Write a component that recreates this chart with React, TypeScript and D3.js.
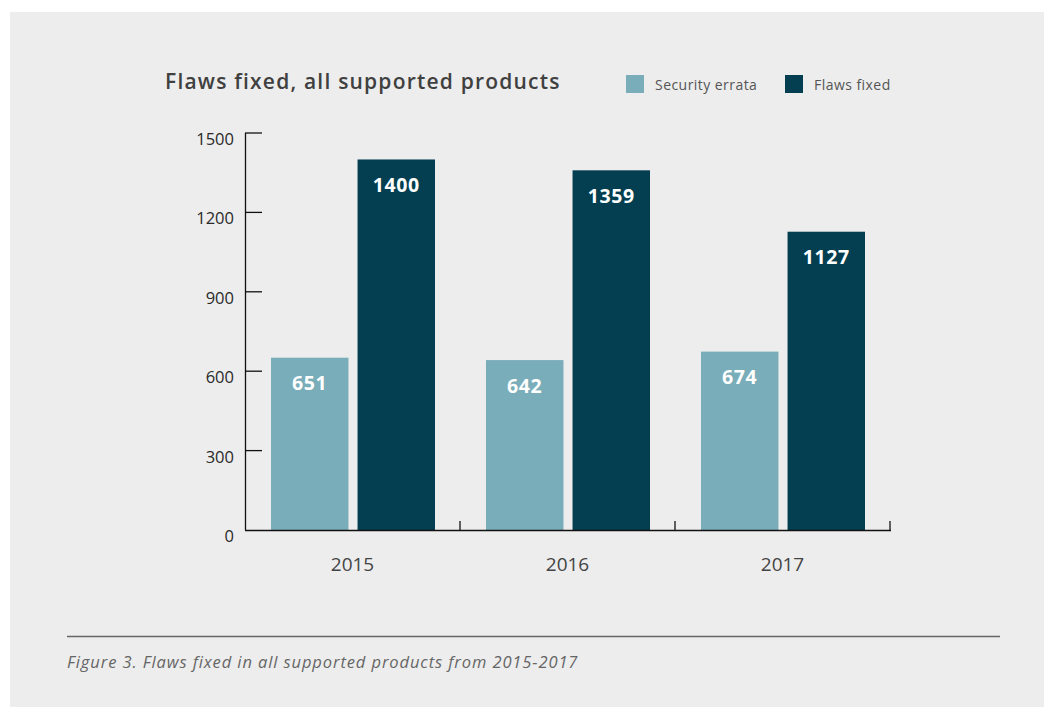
import React from "react";
import * as d3 from "d3";

const years = ["2015", "2016", "2017"];
const seriesNames = ["Security errata", "Flaws fixed"];
const securityErrata = [651, 642, 674];
const flawsFixed = [1400, 1359, 1127];
const yTicks = [0, 300, 600, 900, 1200, 1500];
const colors = ["#79adb9", "#033f50"];

const W = 1044;
const H = 707;
const FONT = "'Open Sans', 'Noto Sans', sans-serif";

export default function App() {
  const x0 = d3.scaleBand<string>().domain(years).range([245, 890]).padding(0);
  const x1 = d3
    .scaleBand<string>()
    .domain(seriesNames)
    .range([26, x0.bandwidth() - 25])
    .paddingInner(0.105);
  const y = d3.scaleLinear().domain([0, 1500]).range([530, 133]);
  const values = [securityErrata, flawsFixed];

  return (
    <svg
      width={W}
      height={H}
      style={{ position: "absolute", left: 0, top: 0 }}
      fontFamily={FONT}
    >
      <rect x={0} y={0} width={W} height={H} fill="#ffffff" />
      <rect x={10} y={12} width={W - 10} height={H - 12} fill="#ededed" />

      {/* title */}
      <text x={165} y={88.5} fontSize={21} fontWeight={600} fill="#404040" letterSpacing={1.2}>
        Flaws fixed, all supported products
      </text>

      {/* legend */}
      {seriesNames.map((s, i) => {
        const lx = [626, 785][i];
        return (
          <g key={s}>
            <rect x={lx} y={75} width={18} height={18} fill={colors[i]} />
            <text x={lx + 29} y={89.5} fontSize={14} fill="#555" letterSpacing={0.45}>
              {s}
            </text>
          </g>
        );
      })}

      {/* bars */}
      {years.map((yr, yi) => (
        <g key={yr} transform={`translate(${x0(yr)},0)`}>
          {seriesNames.map((s, si) => {
            const v = values[si][yi];
            const bx = x1(s)!;
            const bw = x1.bandwidth();
            return (
              <g key={s}>
                <rect x={bx} y={y(v)} width={bw} height={y(0) - y(v)} fill={colors[si]} />
                <text
                  x={bx + bw / 2}
                  y={y(v) + 32.5}
                  textAnchor="middle"
                  fontSize={19.5}
                  fontWeight={700}
                  fill="#ffffff"
                  letterSpacing={0.6}
                >
                  {v}
                </text>
              </g>
            );
          })}
        </g>
      ))}

      {/* y axis */}
      <line x1={245.5} x2={245.5} y1={y(1500)} y2={y(0)} stroke="#111" strokeWidth={1.3} />
      {yTicks.map((t) => (
        <g key={t}>
          {t > 0 && (
            <line x1={245} x2={262} y1={y(t)} y2={y(t)} stroke="#111" strokeWidth={1.3} />
          )}
          <text
            x={234}
            y={y(t) + 12}
            textAnchor="end"
            fontSize={16.5}
            fill="#2a2a2a"
          >
            {t}
          </text>
        </g>
      ))}

      {/* x axis */}
      <line x1={245} x2={891} y1={530.5} y2={530.5} stroke="#111" strokeWidth={1.3} />
      {years.map((yr) => {
        const tx = x0(yr)! + x0.bandwidth();
        return (
          <line key={"t" + yr} x1={tx} x2={tx} y1={521} y2={531} stroke="#111" strokeWidth={1.3} />
        );
      })}
      {years.map((yr) => (
        <text
          key={"l" + yr}
          x={x0(yr)! + x0.bandwidth() / 2}
          y={571}
          textAnchor="middle"
          fontSize={19}
          fill="#444"
        >
          {yr}
        </text>
      ))}

      {/* caption */}
      <line x1={67} x2={1000} y1={636.5} y2={636.5} stroke="#666" strokeWidth={1.5} />
      <text x={67} y={667.5} fontSize={16.5} fontStyle="italic" fill="#666" letterSpacing={0.9}>
        Figure 3. Flaws fixed in all supported products from 2015-2017
      </text>
    </svg>
  );
}
